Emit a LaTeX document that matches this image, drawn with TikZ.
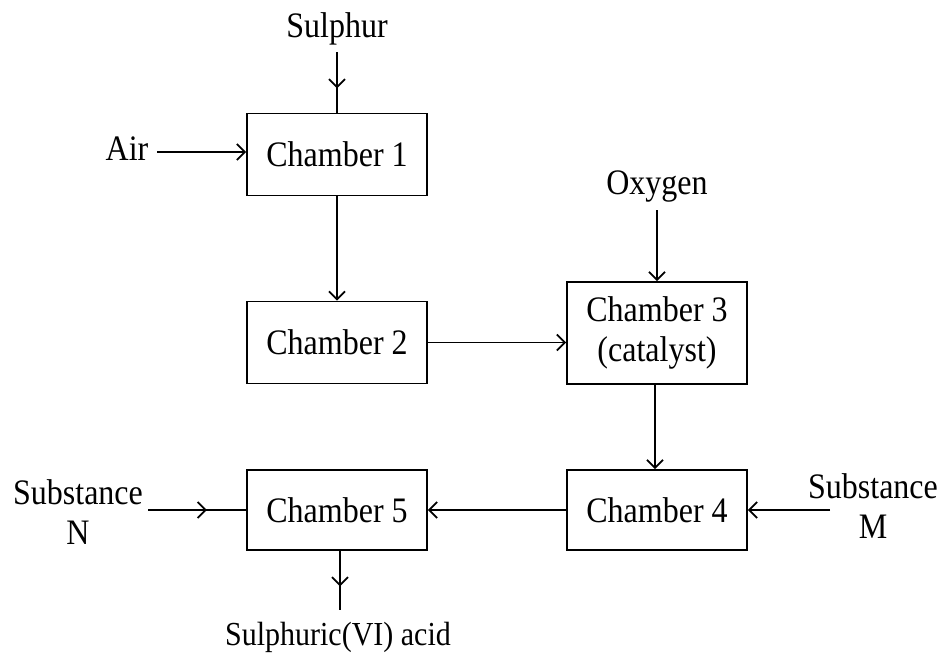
\documentclass[tikz,border=0pt]{standalone}
\usepackage{fontspec}
\usepackage{graphicx}
\setmainfont{Liberation Serif}
\usetikzlibrary{arrows.meta,decorations.markings}
\newcommand{\tl}[1]{\scalebox{1}[1.12]{#1}}
\begin{document}
\begin{tikzpicture}[x=1pt,y=-1pt,
  font=\fontsize{32}{40}\selectfont,
  line width=1.8pt,
  tip/.tip={Straight Barb[length=8pt,width=16pt,line width=1.8pt]},
  flow/.style={-tip},
  midflow/.style={decoration={markings,mark=at position 0.6 with {\arrow{tip}}},postaction={decorate}},
  chamber/.style={draw,minimum width=180pt,minimum height=82pt,inner sep=0pt,align=center},
  lbl/.style={inner sep=0pt,align=center}]
\useasboundingbox (0,0) rectangle (942,654);
\node[chamber] (c1) at (337,154.5) {\tl{Chamber 1}};
\node[chamber] (c2) at (337,342.5) {\tl{Chamber 2}};
\node[chamber,minimum height=102pt] (c3) at (657,333) {\tl{Chamber 3}\\\tl{(catalyst)}};
\node[chamber,minimum height=80pt] (c4) at (657,510) {\tl{Chamber 4}};
\node[chamber,minimum height=80pt] (c5) at (337,510) {\tl{Chamber 5}};
\node[lbl] (sul) at (337,29) {\tl{Sulphur}};
\node[lbl] (air) at (127,149) {\tl{Air}};
\node[lbl] (oxy) at (657,186) {\tl{Oxygen}};
\node[lbl] (subm) at (873,506) {\tl{Substance}\\\tl{M}};
\node[lbl] (subn) at (78,512) {\tl{Substance}\\\tl{N}};
\node[lbl,font=\fontsize{30}{36}\selectfont] (acid) at (338,637) {\tl{Sulphuric(VI) acid}};
\coordinate (sulE) at (337,52);
\coordinate (airE) at (157,152);
\coordinate (oxyE) at (657,210);
\coordinate (submE) at (830,510);
\coordinate (subnE) at (148,510);
\coordinate (acidE) at (340,610);
\draw[midflow] (sulE) -- (c1.north);
\draw[flow] (airE) -- (airE -| c1.west);
\draw[flow] (c1) -- (c2);
\draw[flow] (c2.east) -- (c2.east -| c3.west);
\draw[flow] (oxyE) -- (c3.north);
\draw[flow] ([xshift=-2pt]c3.south) -- ([xshift=-2pt]c4.north);
\draw[flow] (c4) -- (c5);
\draw[flow] (submE) -- (c4.east);
\draw[midflow] (subnE) -- (c5.west);
\draw[midflow] ([xshift=3pt]c5.south) -- (acidE);
\end{tikzpicture}
\end{document}
